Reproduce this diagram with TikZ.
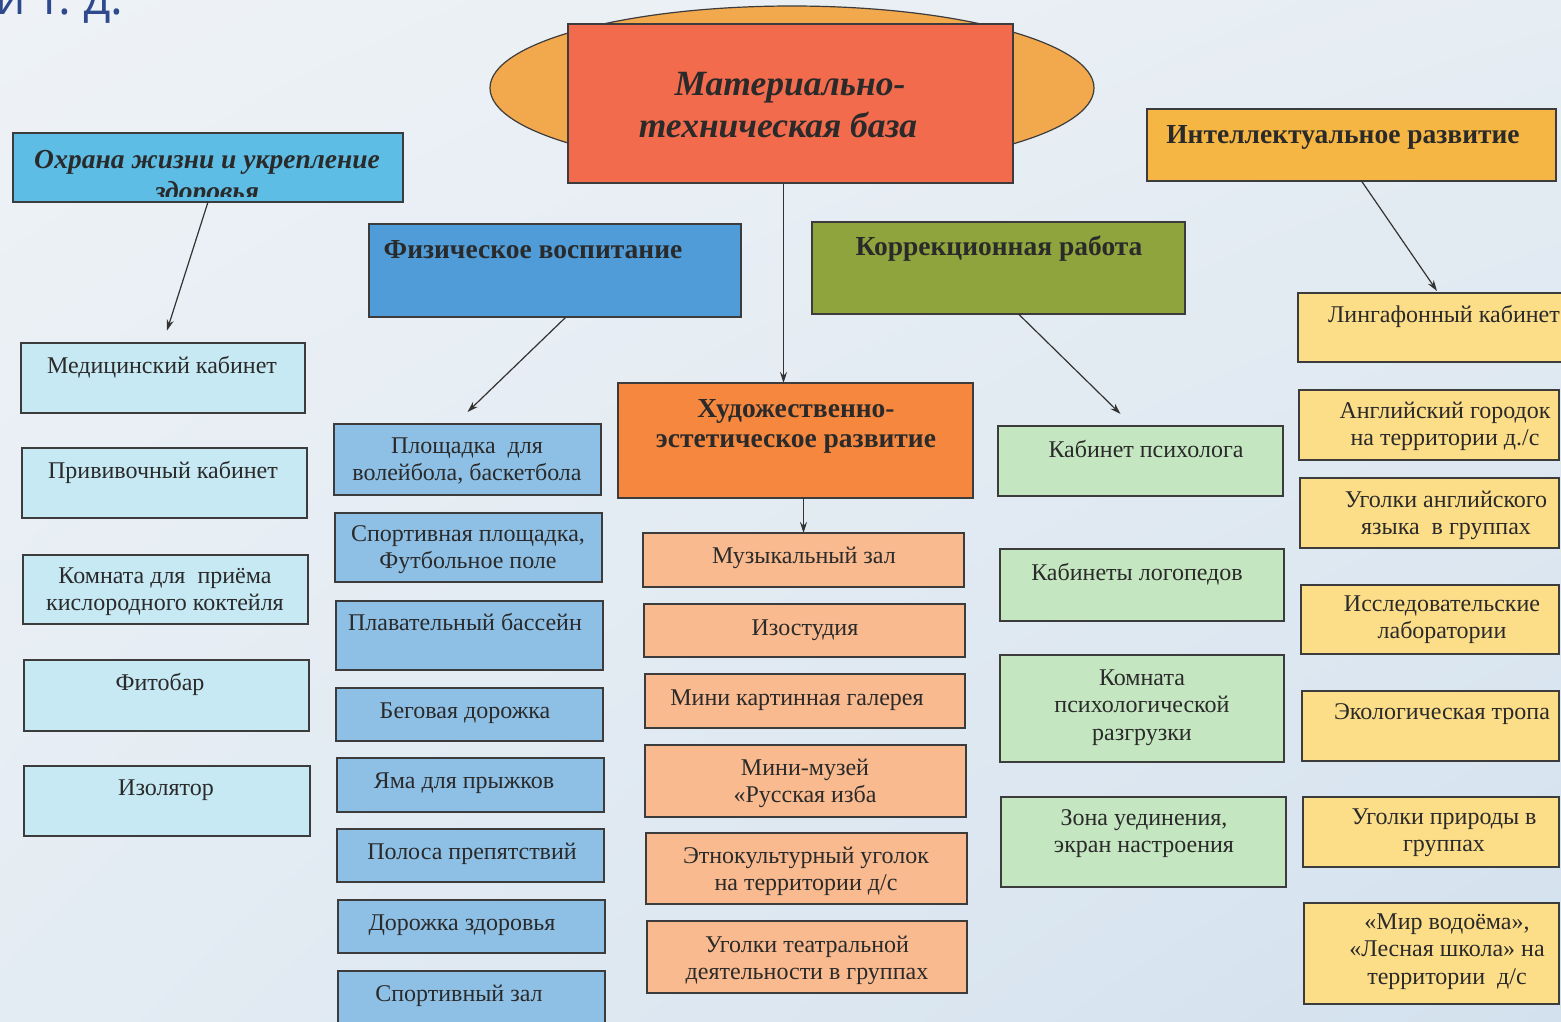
\documentclass[tikz,border=0pt]{standalone}
\usepackage{fontspec}
\setmainfont{Liberation Serif}
\newfontfamily\sansf{Open Sans}
\usetikzlibrary{shapes.geometric,arrows.meta,shadings}
\definecolor{bgA}{HTML}{EEF2F6}
\definecolor{bgB}{HTML}{E6EDF3}
\definecolor{bgC}{HTML}{E4ECF3}
\definecolor{bgD}{HTML}{D3E1EE}
\definecolor{bord}{HTML}{3C3C3C}
\definecolor{txt}{HTML}{2A2A2A}
\definecolor{arrc}{HTML}{333333}
\definecolor{ellc}{HTML}{F2A94E}
\definecolor{trc}{HTML}{F26B4D}
\definecolor{ohrc}{HTML}{5DBDE5}
\definecolor{ohri}{HTML}{C7E9F4}
\definecolor{fizc}{HTML}{4F9CD8}
\definecolor{fizi}{HTML}{8EC0E6}
\definecolor{hudc}{HTML}{F5873F}
\definecolor{hudi}{HTML}{F9BA8F}
\definecolor{korc}{HTML}{8FA43C}
\definecolor{kori}{HTML}{C4E6C0}
\definecolor{intc}{HTML}{F6B644}
\definecolor{inti}{HTML}{FCDD88}
\definecolor{tdc}{HTML}{2E4A8C}
\tikzset{
  bx/.style={draw=bord, line width=1.3pt, inner sep=0pt, outer sep=0pt, rectangle},
  itxt/.style={inner sep=0pt, anchor=base, text=txt, font=\fontsize{24}{27.5}\selectfont},
  htxt/.style={inner sep=0pt, anchor=base, text=txt, font=\fontsize{27.5}{30}\selectfont\bfseries},
  arr/.style={draw=arrc, line width=1.2pt, -{Stealth[length=11pt,width=7pt]}},
}
\newcommand\mkbox[6]{\node[bx,#6,minimum width={(#4)-(#2)},minimum height={(#5)-(#3)}] (#1) at ({((#2)+(#4))/2},{((#3)+(#5))/2}) {};}
\newcommand\tl[1]{\begin{tabular}[t]{@{}c@{}}#1\end{tabular}}
\begin{document}
\begin{tikzpicture}[x=1pt,y=-1pt]
\useasboundingbox (0,0) rectangle (1561,1021);
\clip (0,0) rectangle (1561,1021);
\shade[upper left=bgA, upper right=bgB, lower left=bgC, lower right=bgD] (0,0) rectangle (1561,1021);
\node[anchor=base west, inner sep=0pt, text=tdc, font=\sansf\fontsize{48}{56}\selectfont] (itd) at (-5,14) {и т.~д.};
% title
\node[ellipse, draw=bord, fill=ellc, line width=1.2pt, minimum width=604, minimum height=164, inner sep=0pt] (ell) at (792,88) {};
\mkbox{tr}{568}{24}{1013}{183}{fill=trc}
\node[inner sep=0pt, anchor=base, text=txt, font=\fontsize{35.5}{42}\selectfont\bfseries\itshape] (t-tr1) at (790,95) {Материально-};
\node[inner sep=0pt, anchor=base, text=txt, font=\fontsize{35.5}{42}\selectfont\bfseries\itshape] (t-tr2) at (778,137) {техническая база};
% category headers
\mkbox{ohr}{13}{133}{403}{202}{fill=ohrc}
\node[inner sep=0pt, anchor=base, text=txt, font=\fontsize{27.5}{29}\selectfont\bfseries\itshape] (t-ohr1) at (207,168) {Охрана жизни и укрепление};
\begin{scope}
\clip (13,133) rectangle (403,196);
\node[inner sep=0pt, anchor=base, text=txt, font=\fontsize{27.5}{29}\selectfont\bfseries\itshape] (t-ohr2) at (207,200) {здоровья};
\end{scope}
\mkbox{fiz}{369}{224}{741}{317}{fill=fizc}
\node[htxt] (t-fiz) at (533,258) {Физическое воспитание};
\mkbox{kor}{812}{222}{1185}{314}{fill=korc}
\node[htxt] (t-kor) at (999,255) {Коррекционная работа};
\mkbox{int}{1147}{109}{1556}{181}{fill=intc}
\node[htxt] (t-int) at (1343,143) {Интеллектуальное развитие};
\mkbox{hud}{618}{383}{973}{498}{fill=hudc}
\node[htxt] (t-hud) at (796,417) {\tl{Художественно-\\эстетическое развитие}};
% left column
\mkbox{med}{21}{343}{305}{413}{fill=ohri}
\node[itxt] (t-med) at (162,373) {Медицинский кабинет};
\mkbox{pri}{22}{448}{307}{518}{fill=ohri}
\node[itxt] (t-pri) at (163,478) {Прививочный кабинет};
\mkbox{kom}{23}{555}{308}{624}{fill=ohri}
\node[itxt] (t-kom) at (165,583) {\tl{Комната для\ \ приёма\\кислородного коктейля}};
\mkbox{fit}{24}{660}{309}{731}{fill=ohri}
\node[itxt] (t-fit) at (160,690) {Фитобар};
\mkbox{izo}{24}{766}{310}{836}{fill=ohri}
\node[itxt] (t-izo) at (166,795) {Изолятор};
% blue column
\mkbox{plo}{334}{424}{601}{495}{fill=fizi}
\node[itxt] (t-plo) at (467,453) {\tl{Площадка\ \ для\\волейбола, баскетбола}};
\mkbox{spo}{335}{513}{602}{582}{fill=fizi}
\node[itxt] (t-spo) at (468,541) {\tl{Спортивная площадка,\\Футбольное поле}};
\mkbox{pla}{336}{601}{603}{670}{fill=fizi}
\node[itxt] (t-pla) at (465,630) {Плавательный бассейн};
\mkbox{beg}{336}{688}{603}{741}{fill=fizi}
\node[itxt] (t-beg) at (465,718) {Беговая дорожка};
\mkbox{yam}{337}{758}{604}{812}{fill=fizi}
\node[itxt] (t-yam) at (464,788) {Яма для прыжков};
\mkbox{pol}{337}{829}{604}{882}{fill=fizi}
\node[itxt] (t-pol) at (472,859) {Полоса препятствий};
\mkbox{dor}{338}{900}{605}{953}{fill=fizi}
\node[itxt] (t-dor) at (462,930) {Дорожка здоровья};
\mkbox{zal}{338}{971}{605}{1035}{fill=fizi}
\node[itxt] (t-zal) at (459,1001) {Спортивный зал};
% salmon column
\mkbox{muz}{643}{533}{964}{587}{fill=hudi}
\node[itxt] (t-muz) at (804,563) {Музыкальный зал};
\mkbox{ist}{644}{604}{965}{657}{fill=hudi}
\node[itxt] (t-ist) at (805,635) {Изостудия};
\mkbox{gal}{645}{674}{965}{728}{fill=hudi}
\node[itxt] (t-gal) at (797,705) {Мини картинная галерея};
\mkbox{mus}{645}{745}{966}{817}{fill=hudi}
\node[itxt] (t-mus) at (805,775) {\tl{Мини-музей\\«Русская изба}};
\mkbox{etn}{646}{833}{967}{904}{fill=hudi}
\node[itxt] (t-etn) at (806,863) {\tl{Этнокультурный уголок\\на территории д/с}};
\mkbox{tea}{647}{921}{967}{993}{fill=hudi}
\node[itxt] (t-tea) at (807,952) {\tl{Уголки театральной\\деятельности в группах}};
% green column
\mkbox{psy}{998}{426}{1283}{496}{fill=kori}
\node[itxt] (t-psy) at (1146,457) {Кабинет психолога};
\mkbox{log}{1000}{549}{1284}{621}{fill=kori}
\node[itxt] (t-log) at (1137,580) {Кабинеты логопедов};
\mkbox{raz}{1000}{655}{1284}{762}{fill=kori}
\node[itxt] (t-raz) at (1142,685) {\tl{Комната\\психологической\\разгрузки}};
\mkbox{zon}{1001}{797}{1286}{887}{fill=kori}
\node[itxt] (t-zon) at (1144,825) {\tl{Зона уединения,\\экран настроения}};
% yellow column
\mkbox{lin}{1298}{293}{1566}{362}{fill=inti}
\node[itxt] (t-lin) at (1444,322) {Лингафонный кабинет};
\mkbox{ang}{1299}{390}{1559}{460}{fill=inti}
\node[itxt] (t-ang) at (1445,418) {\tl{Английский городок\\на территории д./с}};
\mkbox{uan}{1300}{478}{1559}{548}{fill=inti}
\node[itxt] (t-uan) at (1446,507) {\tl{Уголки английского\\языка\ \ в группах}};
\mkbox{iss}{1301}{585}{1559}{654}{fill=inti}
\node[itxt] (t-iss) at (1442,611) {\tl{Исследовательские\\лаборатории}};
\mkbox{eko}{1302}{691}{1559}{761}{fill=inti}
\node[itxt] (t-eko) at (1442,719) {Экологическая тропа};
\mkbox{pri2}{1303}{797}{1559}{867}{fill=inti}
\node[itxt] (t-pri2) at (1444,824) {\tl{Уголки природы в\\группах}};
\mkbox{mir}{1304}{903}{1559}{1004}{fill=inti}
\node[itxt] (t-mir) at (1447,929) {\tl{«Мир водоёма»,\\«Лесная школа» на\\территории\ \ д/с}};
% connectors
\draw[arr, shorten >=13pt] (ohr.south) -- (med.north);
\draw[arr] ([xshift=11pt]fiz.south) -- ([yshift=12pt]plo.north);
\draw[arr] ([xshift=-7pt]tr.south) -- ([xshift=-7pt]tr.south |- hud.north);
\draw[arr] (muz.north |- hud.south) -- (muz.north);
\draw[arr] ([xshift=20pt]kor.south) -- ([xshift=-20pt,yshift=12pt]psy.north);
\draw[arr] ([xshift=10pt]int.south) -- ([xshift=5pt,yshift=2pt]lin.north);
\end{tikzpicture}
\end{document}
